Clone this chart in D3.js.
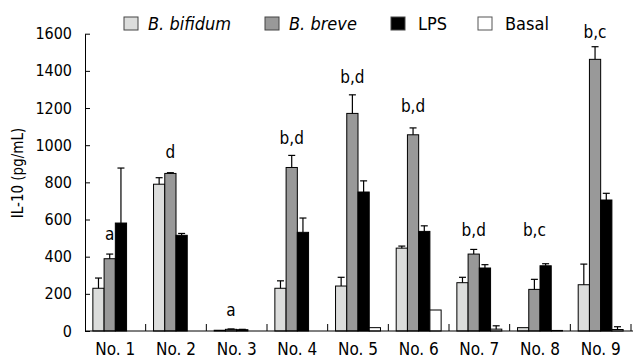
<!DOCTYPE html>
<html>
<head>
<meta charset="utf-8">
<script src="https://cdn.jsdelivr.net/npm/d3@7"></script>
<style>
  body { margin: 0; background: #fff; }
  svg text { font-family: 'DejaVu Sans Condensed', 'DejaVu Sans', sans-serif; font-stretch: condensed; fill: #000; }
</style>
</head>
<body>
<svg id="chart" width="635" height="358"></svg>
<script>
// groups on the x axis
var groups = ["No. 1", "No. 2", "No. 3", "No. 4", "No. 5", "No. 6", "No. 7", "No. 8", "No. 9"];
var seriesNames = ["B. bifidum", "B. breve", "LPS", "Basal"];

// IL-10 means and SD
var bifidum    = [230, 790, 4, 230, 242, 446, 260, 18, 249];
var bifidumErr = [55, 35, 0, 40, 47, 11, 29, 0, 111];
var breve      = [389, 848, 9, 880, 1171, 1056, 414, 224, 1462];
var breveErr   = [25, 4, 2, 65, 100, 37, 25, 54, 68];
var lps        = [581, 515, 7, 531, 748, 536, 339, 351, 705];
var lpsErr     = [296, 10, 2, 77, 60, 30, 18, 11, 36];
var basal      = [0, 0, 0, 0, 18, 113, 10, 3, 8];
var basalErr   = [0, 0, 0, 0, 0, 0, 18, 0, 15];

// significance letters and the height (pg/mL) they sit at
var marks   = ["a", "d", "a", "b,d", "b,d", "b,d", "b,d", "b,c", "b,c"];
var markAt  = [491, 929, 82, 1006, 1334, 1177, 509, 509, 1575];

var yTicks = [0, 200, 400, 600, 800, 1000, 1200, 1400, 1600];

var fills = ["#dcdddc", "#999999", "#000000", "#ffffff"];
var values = [bifidum, breve, lps, basal];
var errors = [bifidumErr, breveErr, lpsErr, basalErr];

var svg = d3.select("#chart");
var mLeft = 85, mRight = 631, mTop = 33.7, mBottom = 331;

var x = d3.scaleBand().domain(groups).range([mLeft, mRight]).padding(0);
var xs = d3.scaleBand().domain(seriesNames).range([0, x.bandwidth()]).paddingInner(0).paddingOuter(0.7);
var y = d3.scaleLinear().domain([0, 1600]).range([mBottom, mTop]);

// bars
var data = [];
groups.forEach(function(g, i){
  seriesNames.forEach(function(s, j){
    data.push({g: g, s: s, j: j, v: values[j][i], e: errors[j][i]});
  });
});

var bars = svg.append("g");
bars.selectAll("rect").data(data.filter(function(d){ return d.v > 0; })).enter()
  .append("rect")
  .attr("x", function(d){ return x(d.g) + xs(d.s); })
  .attr("y", function(d){ return y(d.v); })
  .attr("width", xs.bandwidth())
  .attr("height", function(d){ return y(0) - y(d.v); })
  .attr("fill", function(d){ return fills[d.j]; })
  .attr("stroke", "#000")
  .attr("stroke-width", 1);

// error bars (upper only)
var errs = svg.append("g").attr("stroke", "#000").attr("stroke-width", 1.2);
data.filter(function(d){ return d.e > 0; }).forEach(function(d){
  var cx = x(d.g) + xs(d.s) + xs.bandwidth() / 2;
  errs.append("line").attr("x1", cx).attr("x2", cx).attr("y1", y(d.v)).attr("y2", y(d.v + d.e));
  errs.append("line").attr("x1", cx - 3.5).attr("x2", cx + 3.5).attr("y1", y(d.v + d.e)).attr("y2", y(d.v + d.e));
});

// y axis
var yAxis = d3.axisLeft(y).tickValues(yTicks).tickFormat(d3.format("d"))
  .tickSizeInner(-5).tickSizeOuter(0).tickPadding(13);
var yg = svg.append("g").attr("transform", "translate(" + mLeft + ",0)").call(yAxis);
yg.selectAll("text").attr("font-size", "16px").attr("font-family", null);
yg.select(".domain").attr("stroke", "#000");

// x axis with group separators pointing up
var xg = svg.append("g").attr("transform", "translate(0," + mBottom + ")");
xg.append("line").attr("x1", mLeft).attr("x2", mRight + 2).attr("y1", 0).attr("y2", 0).attr("stroke", "#000");
xg.selectAll("line.sep").data(groups).enter().append("line").attr("class", "sep")
  .attr("x1", function(d){ return x(d) + x.bandwidth(); })
  .attr("x2", function(d){ return x(d) + x.bandwidth(); })
  .attr("y1", 0).attr("y2", -7).attr("stroke", "#000");
xg.selectAll("text").data(groups).enter().append("text")
  .attr("x", function(d){ return x(d) + x.bandwidth() / 2; })
  .attr("y", 24)
  .attr("text-anchor", "middle")
  .attr("font-size", "17px")
  .text(function(d){ return d; });

// significance letters above the B. breve bar
svg.append("g").selectAll("text").data(groups).enter().append("text")
  .attr("x", function(d){ return x(d) + xs("B. breve") + xs.bandwidth() / 2; })
  .attr("y", function(d, i){ return y(markAt[i]); })
  .attr("text-anchor", "middle")
  .attr("font-size", "17px")
  .text(function(d, i){ return marks[i]; });

// y label
svg.append("text")
  .attr("transform", "translate(23,173) rotate(-90)")
  .attr("text-anchor", "middle")
  .attr("font-size", "15px")
  .text("IL-10 (pg/mL)");

// legend
var legX = [124, 265, 391, 478];
var leg = svg.append("g");
seriesNames.forEach(function(s, j){
  leg.append("rect").attr("x", legX[j]).attr("y", 17).attr("width", 14).attr("height", 13)
    .attr("fill", fills[j]).attr("stroke", j == 3 ? "#555" : "#444").attr("stroke-width", 1);
  leg.append("text").attr("x", legX[j] + 24 + (j >= 2 ? 3 : 0)).attr("y", 29.5)
    .attr("font-size", "18px")
    .attr("font-style", j < 2 ? "italic" : "normal")
    .text(s);
});
</script>
</body>
</html>
